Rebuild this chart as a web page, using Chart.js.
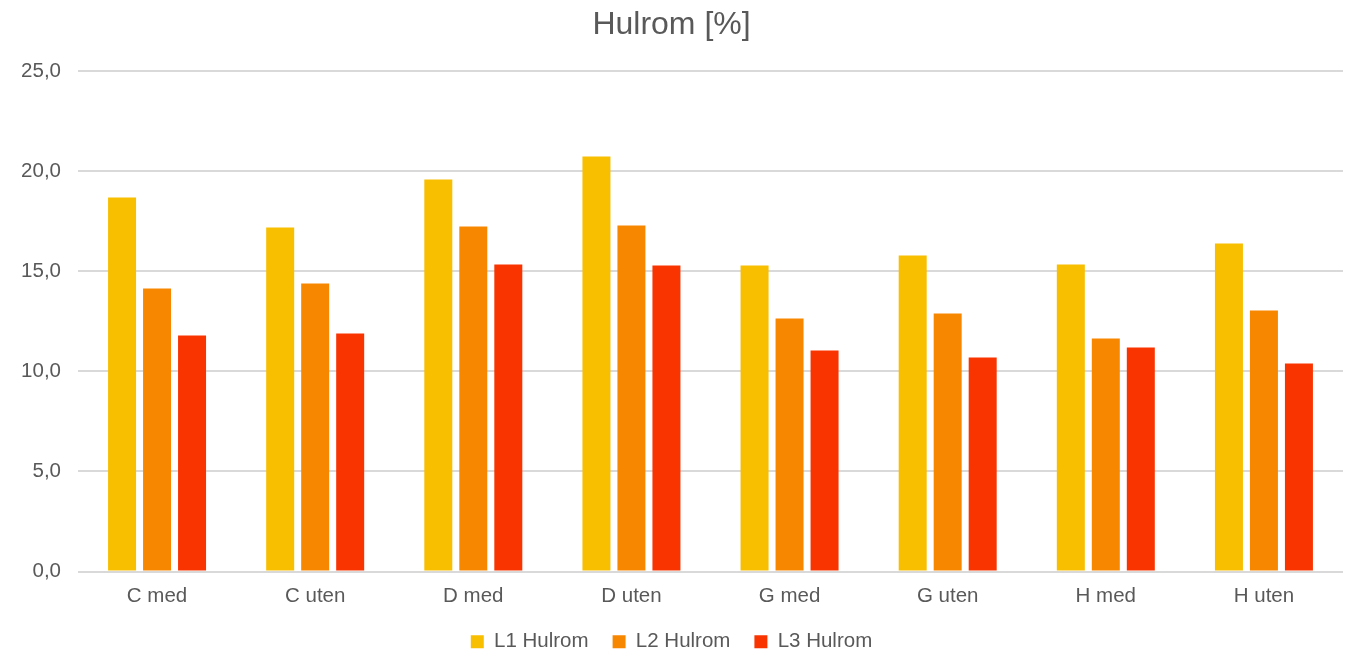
<!DOCTYPE html>
<html>
<head>
<meta charset="utf-8">
<script src="https://cdn.jsdelivr.net/npm/chart.js@4"></script>
<style>
  html, body { margin: 0; padding: 0; background: #fff; }
  #wrap { width: 1345px; height: 653px; }
</style>
</head>
<body>
<div id="wrap"><canvas id="myChart"></canvas></div>
<script>
var categories = ["C med", "C uten", "D med", "D uten", "G med", "G uten", "H med", "H uten"];
var l1 = [18.7, 17.2, 19.6, 20.75, 15.3, 15.8, 15.35, 16.4];
var l2 = [14.15, 14.4, 17.25, 17.3, 12.65, 12.9, 11.65, 13.05];
var l3 = [11.8, 11.9, 15.35, 15.3, 11.05, 10.7, 11.2, 10.4];
var seriesNames = ["L1 Hulrom", "L2 Hulrom", "L3 Hulrom"];

Chart.defaults.font.family = "'Liberation Sans', Arial, sans-serif";
Chart.defaults.color = "#595959";

const ctx = document.getElementById('myChart');

new Chart(ctx, {
  type: 'bar',
  data: {
    labels: categories,
    datasets: [
      { label: seriesNames[0], data: l1, backgroundColor: '#F8BE00' },
      { label: seriesNames[1], data: l2, backgroundColor: '#F88700' },
      { label: seriesNames[2], data: l3, backgroundColor: '#F93400' }
    ]
  },
  options: {
    responsive: true,
    maintainAspectRatio: false,
    animation: false,
    categoryPercentage: 0.664,
    barPercentage: 0.8,
    layout: { padding: { left: 0, right: 2, top: 6, bottom: -9 } },
    plugins: {
      title: {
        display: true,
        text: 'Hulrom [%]',
        font: { size: 32, weight: 'normal' },
        color: '#595959',
        padding: { top: 0, bottom: 27 }
      },
      legend: {
        position: 'bottom',
        labels: {
          boxWidth: 13,
          boxHeight: 13,
          padding: 24,
          font: { size: 20.5 },
          color: '#595959'
        }
      },
      tooltip: { enabled: false }
    },
    scales: {
      x: {
        grid: { display: false },
        border: { display: false },
        afterFit: function(axis) { axis.height = 36; },
        ticks: { font: { size: 20.5 }, color: '#595959', padding: 5 }
      },
      y: {
        min: 0,
        max: 25,
        afterFit: function(axis) { axis.width = 78; },
        ticks: {
          stepSize: 5,
          font: { size: 20.5 },
          color: '#595959',
          padding: 17,
          callback: function(v) { return v.toFixed(1).replace('.', ','); }
        },
        grid: { color: '#d9d9d9', lineWidth: 2, drawTicks: false },
        border: { display: false }
      }
    }
  }
});
</script>
</body>
</html>
